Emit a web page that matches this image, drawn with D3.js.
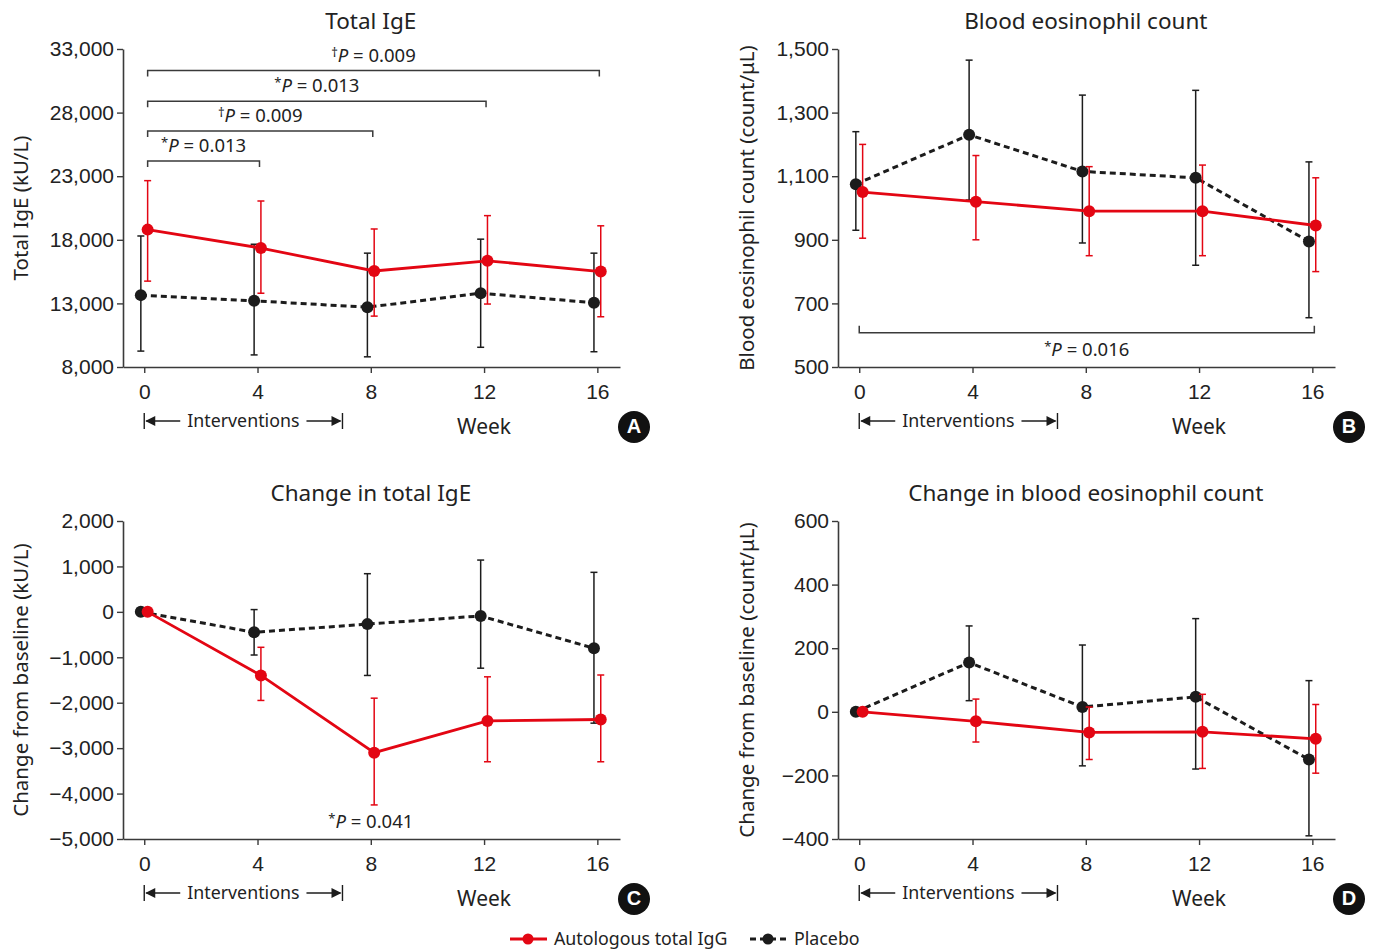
<!DOCTYPE html>
<html>
<head>
<meta charset="utf-8">
<script src="https://cdn.jsdelivr.net/npm/d3@7"></script>
<style>
  body { margin: 0; background: #fff; }
  text { fill: #222; }
</style>
</head>
<body>
<svg id="chart" width="1375" height="951"></svg>
<script>
'use strict';

// ---- data ----
const weeks = [0, 4, 8, 12, 16];

// A: total IgE (kU/L)
const igeAutoMean = [18800, 17350, 15550, 16350, 15500];
const igeAutoLow  = [14750, 13800, 12000, 12950, 11950];
const igeAutoHigh = [22650, 21050, 18850, 19900, 19100];
const igePlacMean = [13650, 13200, 12700, 13800, 13050];
const igePlacLow  = [9250, 8950, 8800, 9550, 9200];
const igePlacHigh = [18300, 17650, 16950, 18050, 16950];

// B: blood eosinophil count (count/uL)
const eosAutoMean = [1050, 1020, 990, 990, 945];
const eosAutoLow  = [905, 900, 850, 850, 800];
const eosAutoHigh = [1200, 1165, 1130, 1135, 1095];
const eosPlacMean = [1075, 1230, 1115, 1095, 895];
const eosPlacLow  = [930, 1025, 890, 820, 655];
const eosPlacHigh = [1240, 1465, 1355, 1370, 1145];

// C: change in total IgE
const dIgeAutoMean = [0, -1400, -3100, -2400, -2370];
const dIgeAutoLow  = [null, -1950, -4250, -3300, -3300];
const dIgeAutoHigh = [null, -780, -1900, -1430, -1390];
const dIgePlacMean = [0, -450, -270, -90, -800];
const dIgePlacLow  = [null, -950, -1400, -1240, -2450];
const dIgePlacHigh = [null, 50, 840, 1140, 870];

// D: change in blood eosinophil count
const dEosAutoMean = [0, -30, -65, -63, -85];
const dEosAutoLow  = [null, -95, -150, -178, -193];
const dEosAutoHigh = [null, 40, 15, 55, 23];
const dEosPlacMean = [0, 155, 15, 47, -150];
const dEosPlacLow  = [null, 35, -170, -180, -390];
const dEosPlacHigh = [null, 270, 210, 293, 98];

// tick values
const igeTicks = [8000, 13000, 18000, 23000, 28000, 33000];
const eosTicks = [500, 700, 900, 1100, 1300, 1500];
const dIgeTicks = [-5000, -4000, -3000, -2000, -1000, 0, 1000, 2000];
const dEosTicks = [-400, -200, 0, 200, 400, 600];

// significance annotations
const igeBrackets = [
  {from: 0, to: 16, y: 31300, sym: "\u2020", p: "0.009"},
  {from: 0, to: 12, y: 28900, sym: "*", p: "0.013"},
  {from: 0, to: 8, y: 26550, sym: "\u2020", p: "0.009"},
  {from: 0, to: 4, y: 24200, sym: "*", p: "0.013"}
];
const eosBrackets = [{from: 0, to: 16, y: 608, sym: "*", p: "0.016", below: true}];
const dIgeNotes = [{at: 8, y: -4600, sym: "*", p: "0.041"}];

const RED = "#e30613";
const BLACK = "#1c1c1c";
const AXIS = "#3a3a3a";
const TICK_FONT = "'Liberation Sans', Arial, sans-serif";
const TEXT_FONT = "'Noto Sans', 'Open Sans', sans-serif";

const svg = d3.select("#chart");

function pLabel(sel, sym, p) {
  sel.append("tspan").attr("font-size", 13).attr("dy", -5).text(sym);
  sel.append("tspan").attr("font-style", "italic").attr("dy", 5).text("P");
  sel.append("tspan").text(" = " + p);
}

function drawPanel(cfg) {
  const width = 497, height = 318;
  const g = svg.append("g").attr("transform", "translate(" + cfg.left + "," + cfg.top + ")");

  const x = d3.scaleLinear().domain([-0.75, 16.8]).range([0, width]);
  const y = d3.scaleLinear().domain(cfg.yDomain).range([height, 0]);

  // axes
  const yAxis = g.append("g")
    .call(d3.axisLeft(y).tickValues(cfg.yTicks).tickSize(6).tickSizeOuter(0).tickPadding(3).tickFormat(d3.format(",")));
  const xAxis = g.append("g").attr("transform", "translate(0," + height + ")")
    .call(d3.axisBottom(x).tickValues(weeks).tickSize(6).tickSizeOuter(0).tickPadding(11));
  [xAxis, yAxis].forEach(a => {
    a.select(".domain").attr("stroke", AXIS).attr("stroke-width", 1.6);
    a.selectAll(".tick line").attr("stroke", AXIS).attr("stroke-width", 1.4);
    a.selectAll(".tick text").attr("font-family", TICK_FONT).attr("font-size", 21).style("fill", "#222");
  });

  // title
  g.append("text")
    .attr("x", (x(0) + x(16)) / 2).attr("y", -26)
    .attr("text-anchor", "middle").attr("dominant-baseline", "middle")
    .attr("font-family", TEXT_FONT).attr("font-size", 22.5)
    .text(cfg.title);

  // y label
  g.append("text")
    .attr("transform", "translate(" + cfg.yLabelX + "," + (height / 2) + ") rotate(-90)")
    .attr("text-anchor", "middle").attr("dominant-baseline", "middle")
    .attr("font-family", TEXT_FONT).attr("font-size", 20.5)
    .text(cfg.yLabel);

  // brackets
  (cfg.brackets || []).forEach(b => {
    const drop = b.below ? -7 : 6;
    const x1 = x(b.from + (b.below ? 0 : 0.12)), x2 = x(b.to + 0.07), yy = y(b.y);
    g.append("path")
      .attr("d", "M" + x1 + "," + (yy + drop) + "V" + yy + "H" + x2 + "V" + (yy + drop))
      .attr("fill", "none").attr("stroke", AXIS).attr("stroke-width", 1.5);
    const t = g.append("text")
      .attr("x", (x1 + x2) / 2).attr("y", b.below ? yy + 23 : yy - 9)
      .attr("text-anchor", "middle")
      .attr("font-family", TEXT_FONT).attr("font-size", 18.5);
    pLabel(t, b.sym, b.p);
  });
  (cfg.notes || []).forEach(n => {
    const t = g.append("text")
      .attr("x", x(n.at)).attr("y", y(n.y) + 7)
      .attr("text-anchor", "middle")
      .attr("font-family", TEXT_FONT).attr("font-size", 18.5);
    pLabel(t, n.sym, n.p);
  });

  // series: placebo first, autologous on top
  cfg.series.forEach(s => {
    const pts = weeks.map((w, i) => ({w: w + s.offset, m: s.mean[i], lo: s.low[i], hi: s.high[i]}));
    const sg = g.append("g");
    const bars = pts.filter(d => d.lo != null);
    sg.selectAll(".bar").data(bars).enter().append("line")
      .attr("x1", d => x(d.w)).attr("x2", d => x(d.w))
      .attr("y1", d => y(d.lo)).attr("y2", d => y(d.hi))
      .attr("stroke", s.color).attr("stroke-width", 1.5);
    ["lo", "hi"].forEach(k => {
      sg.selectAll(".cap-" + k).data(bars).enter().append("line")
        .attr("x1", d => x(d.w) - 3.5).attr("x2", d => x(d.w) + 3.5)
        .attr("y1", d => y(d[k])).attr("y2", d => y(d[k]))
        .attr("stroke", s.color).attr("stroke-width", 1.5);
    });
    sg.append("path").datum(pts)
      .attr("d", d3.line().x(d => x(d.w)).y(d => y(d.m)))
      .attr("fill", "none").attr("stroke", s.color).attr("stroke-width", s.dash ? 3 : 2.8)
      .attr("stroke-dasharray", s.dash ? "6,4" : null);
    sg.selectAll("circle").data(pts).enter().append("circle")
      .attr("cx", d => x(d.w)).attr("cy", d => y(d.m)).attr("r", 6)
      .attr("fill", s.color);
  });

  // interventions marker (weeks 0 to 7)
  const iy = height + 54, x0 = x(0), x7 = x(7);
  const ig = g.append("g").attr("stroke", BLACK).attr("stroke-width", 1.4);
  ig.append("line").attr("x1", x0).attr("x2", x0).attr("y1", iy - 8).attr("y2", iy + 8);
  ig.append("line").attr("x1", x7).attr("x2", x7).attr("y1", iy - 8).attr("y2", iy + 8);
  ig.append("line").attr("x1", x0 + 2).attr("x2", x0 + 36).attr("y1", iy).attr("y2", iy);
  ig.append("line").attr("x1", x7 - 36).attr("x2", x7 - 2).attr("y1", iy).attr("y2", iy);
  ig.append("path").attr("d", "M" + (x0 + 1) + "," + iy + "l10,-5v10z").attr("fill", BLACK).attr("stroke", "none");
  ig.append("path").attr("d", "M" + (x7 - 1) + "," + iy + "l-10,-5v10z").attr("fill", BLACK).attr("stroke", "none");
  g.append("text")
    .attr("x", (x0 + x7) / 2).attr("y", iy + 1.5).attr("dominant-baseline", "middle")
    .attr("text-anchor", "middle").attr("font-family", TEXT_FONT).attr("font-size", 17.8)
    .text("Interventions");

  g.append("text")
    .attr("x", x(12)).attr("y", height + 61).attr("dominant-baseline", "middle")
    .attr("text-anchor", "middle").attr("font-family", TEXT_FONT).attr("font-size", 21)
    .text("Week");

  // panel letter
  g.append("circle").attr("cx", width + 14).attr("cy", height + 60).attr("r", 16).attr("fill", "#111");
  g.append("text")
    .attr("x", width + 14).attr("y", height + 61).attr("dominant-baseline", "middle")
    .attr("text-anchor", "middle").attr("font-family", TICK_FONT).attr("font-weight", "bold")
    .attr("font-size", 20).style("fill", "#fff")
    .text(cfg.letter);
}

function series(autoM, autoL, autoH, placM, placL, placH) {
  return [
    {mean: placM, low: placL, high: placH, color: BLACK, dash: true, offset: -0.12},
    {mean: autoM, low: autoL, high: autoH, color: RED, dash: false, offset: 0.12}
  ];
}

drawPanel({
  left: 123, top: 49, letter: "A", title: "Total IgE", yLabel: "Total IgE (kU/L)", yLabelX: -101,
  yDomain: [8000, 33000], yTicks: igeTicks, brackets: igeBrackets,
  series: series(igeAutoMean, igeAutoLow, igeAutoHigh, igePlacMean, igePlacLow, igePlacHigh)
});
drawPanel({
  left: 838, top: 49, letter: "B", title: "Blood eosinophil count", yLabel: "Blood eosinophil count (count/\u03bcL)", yLabelX: -90,
  yDomain: [500, 1500], yTicks: eosTicks, brackets: eosBrackets,
  series: series(eosAutoMean, eosAutoLow, eosAutoHigh, eosPlacMean, eosPlacLow, eosPlacHigh)
});
drawPanel({
  left: 123, top: 521, letter: "C", title: "Change in total IgE", yLabel: "Change from baseline (kU/L)", yLabelX: -101,
  yDomain: [-5000, 2000], yTicks: dIgeTicks, notes: dIgeNotes,
  series: series(dIgeAutoMean, dIgeAutoLow, dIgeAutoHigh, dIgePlacMean, dIgePlacLow, dIgePlacHigh)
});
drawPanel({
  left: 838, top: 521, letter: "D", title: "Change in blood eosinophil count", yLabel: "Change from baseline (count/\u03bcL)", yLabelX: -90,
  yDomain: [-400, 600], yTicks: dEosTicks,
  series: series(dEosAutoMean, dEosAutoLow, dEosAutoHigh, dEosPlacMean, dEosPlacLow, dEosPlacHigh)
});

// legend
const legendItems = [
  {label: "Autologous total IgG", color: RED, dash: false, x: 510},
  {label: "Placebo", color: BLACK, dash: true, x: 750}
];
const lg = svg.append("g").attr("transform", "translate(0,939)");
legendItems.forEach(d => {
  lg.append("line").attr("x1", d.x).attr("x2", d.x + 37).attr("y1", 0).attr("y2", 0)
    .attr("stroke", d.color).attr("stroke-width", 3).attr("stroke-dasharray", d.dash ? "6,4" : null);
  lg.append("circle").attr("cx", d.x + 18).attr("cy", 0).attr("r", 5.5).attr("fill", d.color);
  lg.append("text").attr("x", d.x + 44).attr("y", 1.5).attr("dominant-baseline", "middle")
    .attr("font-family", TEXT_FONT).attr("font-size", 17.8).text(d.label);
});
</script>
</body>
</html>
